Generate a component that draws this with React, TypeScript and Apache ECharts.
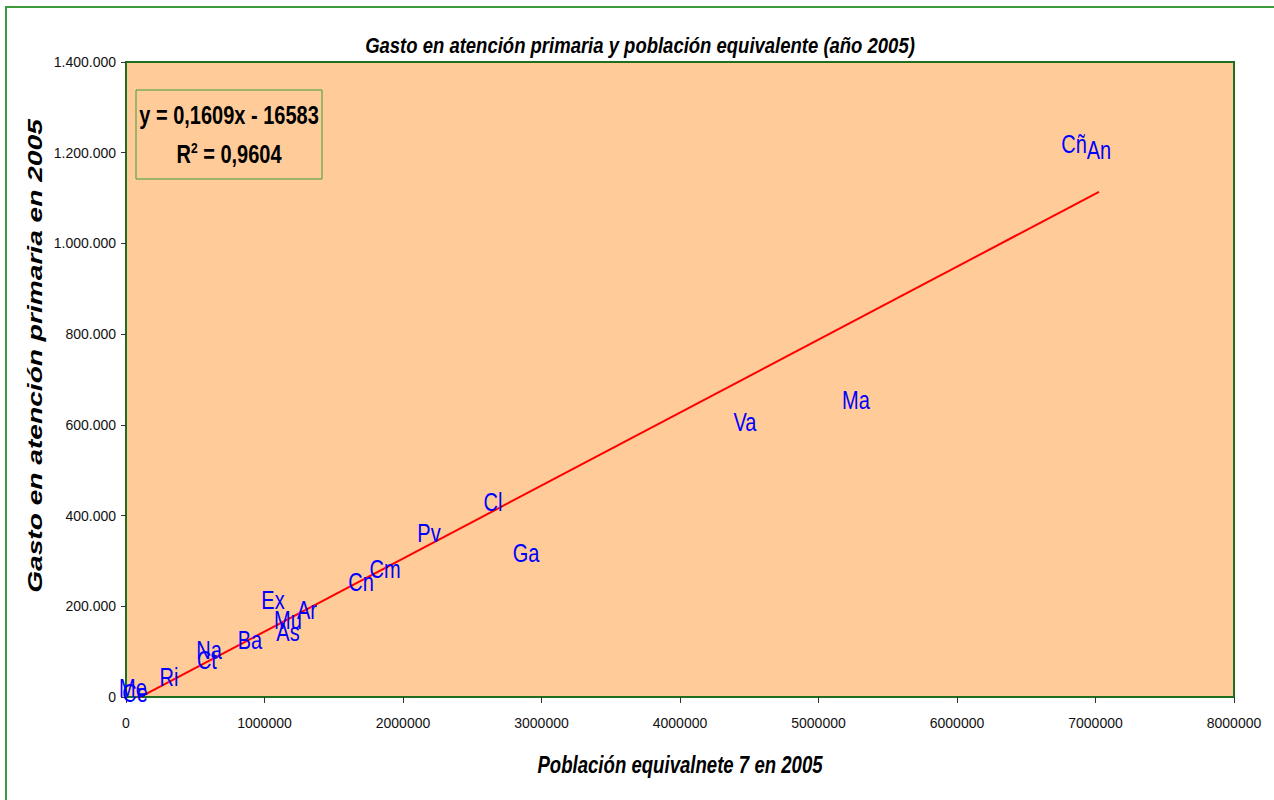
import React, { useEffect, useRef } from "react";
import * as echarts from "echarts";

const regionLabels = ["Me", "Ce", "Ri", "Ct", "Na", "Ba", "Ex", "Mu", "As", "Ar", "Cn", "Cm", "Pv", "Cl", "Ga", "Va", "Ma", "Cñ", "An"];
const poblacion = [50500, 65000, 310500, 584000, 599300, 895300, 1061400, 1169700, 1169700, 1306900, 1696700, 1870000, 2187700, 2649800, 2888100, 4469300, 5270800, 6844800, 7025300];
const gasto = [19800, 8000, 44100, 81600, 103600, 125700, 213900, 169800, 143300, 191800, 253500, 282200, 361600, 429900, 317500, 606300, 654800, 1219200, 1206000];

const slope = 0.1609;
const intercept = -16583;
const r2 = "0,9604";

const xTicks = [0, 1000000, 2000000, 3000000, 4000000, 5000000, 6000000, 7000000, 8000000];
const yTicks = [0, 200000, 400000, 600000, 800000, 1000000, 1200000, 1400000];

const titleText = "Gasto en atención primaria y población equivalente (año 2005)";
const xName = "Población equivalnete 7 en 2005";
const yName = "Gasto en atención primaria en 2005";

const FONT = '"Liberation Sans", Arial, sans-serif';

function fmtDots(v: number): string {
  return String(Math.round(v)).replace(/\B(?=(\d{3})+(?!\d))/g, ".");
}

export default function App() {
  const ref = useRef<HTMLDivElement>(null);
  useEffect(() => {
    document.body.style.margin = "0";
    const chart = echarts.init(ref.current!, null, { renderer: "svg" });
    const xMin = Math.min(...poblacion);
    const xMax = Math.max(...poblacion);
    const pts = regionLabels.map((_n, i) => [poblacion[i], gasto[i]]);
    chart.setOption({
      animation: false,
      backgroundColor: "#ffffff",
      grid: {
        left: 126,
        top: 62,
        width: 1108,
        height: 635,
        show: true,
        backgroundColor: "#FFCC99",
        borderColor: "#1e701e",
        borderWidth: 2,
      },
      xAxis: {
        type: "value",
        min: xTicks[0],
        max: xTicks[xTicks.length - 1],
        interval: xTicks[1] - xTicks[0],
        axisLine: { show: false },
        axisTick: { show: true, length: 6, lineStyle: { color: "#333" } },
        splitLine: { show: false },
        axisLabel: { color: "#111", fontFamily: FONT, fontSize: 14, margin: 19, formatter: (v: number) => String(v) },
      },
      yAxis: {
        type: "value",
        min: yTicks[0],
        max: yTicks[yTicks.length - 1],
        interval: yTicks[1] - yTicks[0],
        axisLine: { show: false },
        axisTick: { show: true, length: 5, lineStyle: { color: "#333" } },
        splitLine: { show: false },
        axisLabel: { color: "#111", fontFamily: FONT, fontSize: 14, margin: 10, formatter: (v: number) => fmtDots(v) },
      },
      series: [
        {
          type: "line",
          data: [
            [xMin, slope * xMin + intercept],
            [xMax, slope * xMax + intercept],
          ],
          symbol: "none",
          clip: true,
          lineStyle: { color: "#ff0000", width: 2 },
          z: 2,
        },
        {
          type: "custom",
          data: pts,
          encode: { x: 0, y: 1 },
          z: 3,
          renderItem: (params: any, api: any) => {
            const p = api.coord([api.value(0), api.value(1)]);
            return {
              type: "text",
              x: p[0],
              y: p[1],
              scaleY: 1.3,
              style: {
                text: regionLabels[params.dataIndex],
                fill: "#0000ff",
                fontFamily: FONT,
                fontSize: 20,
                align: "center",
                verticalAlign: "middle",
              },
            };
          },
        },
      ],
      graphic: [
        {
          type: "rect",
          shape: { x: 6, y: 7, width: 1320, height: 900 },
          style: { fill: "none", stroke: "#3c9c3c", lineWidth: 2 },
          silent: true,
        },
        {
          type: "text",
          x: 640,
          y: 45,
          scaleY: 1.2,
          style: {
            text: titleText,
            fontFamily: FONT,
            fontSize: 18.5,
            fontWeight: "bold",
            fontStyle: "italic",
            fill: "#000",
            align: "center",
            verticalAlign: "middle",
          },
        },
        {
          type: "text",
          x: 35,
          y: 356,
          rotation: Math.PI / 2,
          scaleX: 1.34,
          style: {
            text: yName,
            fontFamily: FONT,
            fontSize: 21,
            fontWeight: "bold",
            fontStyle: "italic",
            fill: "#000",
            align: "center",
            verticalAlign: "middle",
          },
        },
        {
          type: "text",
          x: 680,
          y: 765,
          scaleY: 1.3,
          style: {
            text: xName,
            fontFamily: FONT,
            fontSize: 18.6,
            fontWeight: "bold",
            fontStyle: "italic",
            fill: "#000",
            align: "center",
            verticalAlign: "middle",
          },
        },
        {
          type: "rect",
          shape: { x: 136, y: 90, width: 186, height: 89 },
          style: { fill: "none", stroke: "#3c9c3c", lineWidth: 1 },
        },
        {
          type: "text",
          x: 229,
          y: 115,
          scaleY: 1.26,
          style: {
            text: "y = " + String(slope).replace(".", ",") + "x - " + String(-intercept),
            fontFamily: FONT,
            fontSize: 20,
            fontWeight: "bold",
            fill: "#000",
            align: "center",
            verticalAlign: "middle",
          },
        },
        {
          type: "text",
          x: 229,
          y: 154,
          scaleY: 1.26,
          style: {
            text: "R{s|2} = " + r2,
            rich: { s: { fontSize: 12, fontWeight: "bold", fontFamily: FONT, verticalAlign: "top", padding: [0, 0, 10, 0] } },
            fontFamily: FONT,
            fontSize: 20,
            fontWeight: "bold",
            fill: "#000",
            align: "center",
            verticalAlign: "middle",
          },
        },
      ],
    });
    return () => chart.dispose();
  }, []);
  return <div ref={ref} style={{ width: 1274, height: 800 }} />;
}
